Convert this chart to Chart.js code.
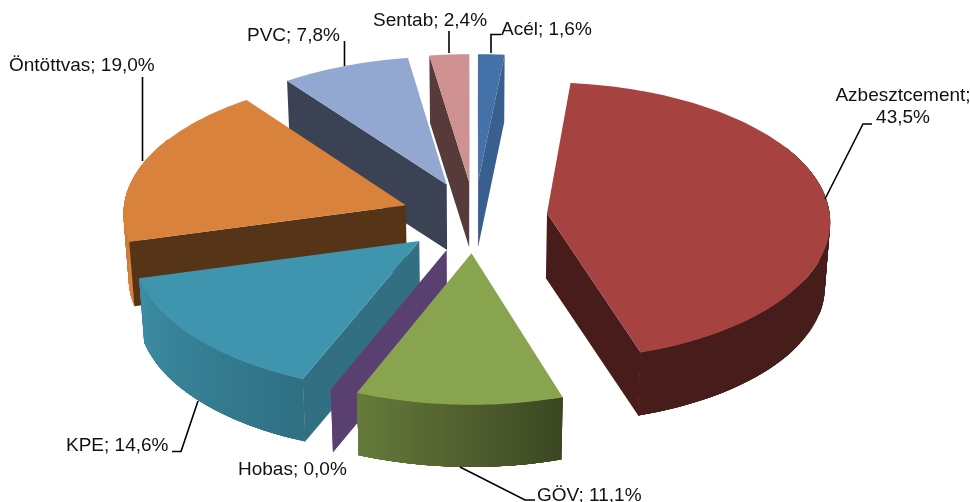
<!DOCTYPE html>
<html>
<head>
<meta charset="utf-8">
<title>Pie 3D</title>
<script src="https://cdn.jsdelivr.net/npm/chart.js@4"></script>
<style>
  html, body { margin: 0; padding: 0; background: #fff; overflow: hidden; }
  canvas { display: block; }
</style>
</head>
<body>
<canvas id="grafico" width="970" height="502"></canvas>
<script>
// data
const categories = ["Acél", "Azbesztcement", "GÖV", "Hobas", "KPE", "Öntöttvas", "PVC", "Sentab"];
const values = [1.6, 43.5, 11.1, 0.0, 14.6, 19.0, 7.8, 2.4];

// colours
const faceColors = ["#4472a8", "#a64341", "#88a44e", "#5a4070", "#3f95ae", "#d8823c", "#92a8d0", "#cf9191"];
const wallColors = ["#395f8e", "#471c1a", "#4f6330", "#5a4070", "#326f82", "#563417", "#3a4254", "#573a3a"];

// label placement
const labelAnchors = [
  { x: 501, y: 30, line: [[491, 53], [491, 34.5], [501, 34.5]] },
  { x: 903, y: 96, center: true, line: [[872, 124], [863, 124], [825, 199]] },
  { x: 537, y: 496, line: [[460, 467], [525, 500], [535, 500]] },
  { x: 238, y: 470, line: null },
  { x: 66, y: 446, line: [[172, 451.5], [181, 451.5], [198, 401]] },
  { x: 9, y: 66, line: [[142.5, 77], [142.5, 161]] },
  { x: 247, y: 36, line: [[344.5, 41], [344.5, 66]] },
  { x: 373, y: 21, line: [[449, 31], [449, 53]] }
];

// perspective of the flattened pie
const VIEW = { tilt: 0.49, perspY: 0.0002, perspX: 0.00018, depth: 65, baseScale: 0.985 };

function projeta(cx, cy, px, pz, base) {
  const sx = 1 / (1 - VIEW.perspX * pz);
  const sy = 1 / (1 - VIEW.perspY * pz);
  const k = base ? VIEW.baseScale : 1;
  return {
    x: cx + px * sx * k,
    y: cy + VIEW.tilt * pz * sy * k + (base ? VIEW.depth : 0)
  };
}

function misturaCor(hex, f) {
  const n = parseInt(hex.slice(1), 16);
  const r = Math.round(((n >> 16) & 255) * f);
  const g = Math.round(((n >> 8) & 255) * f);
  const b = Math.round((n & 255) * f);
  return `rgb(${r},${g},${b})`;
}

// shade of the outer wall, by angle clockwise from the top
function luzParede(graus) {
  if (graus <= 162) return 0.43;
  if (graus <= 202) return 0.43 + (graus - 162) / 40 * 0.32;
  if (graus <= 255) return 0.75 + (graus - 202) / 53 * 0.2;
  return 1;
}

function poligono(ctx, pts, cor) {
  ctx.beginPath();
  pts.forEach((p, i) => i ? ctx.lineTo(p.x, p.y) : ctx.moveTo(p.x, p.y));
  ctx.closePath();
  ctx.fillStyle = cor;
  ctx.fill();
}

function desenhaFatia(ctx, arc, i) {
  const ini = arc.startAngle + Math.PI / 2;
  const fim = arc.endAngle + Math.PI / 2;
  const meio = (ini + fim) / 2;
  const ex = arc.options.offset * Math.sin(meio);
  const ez = -arc.options.offset * Math.cos(meio);
  const R = arc.outerRadius;
  const pt = (ang, r, base) =>
    projeta(arc.x, arc.y, ex + r * Math.sin(ang), ez - r * Math.cos(ang), base);

  const passos = Math.max(1, Math.ceil((fim - ini) / 0.02));
  const angs = [];
  for (let k = 0; k <= passos; k++) angs.push(ini + (fim - ini) * k / passos);

  // outer wall, front part only (the top face hides the overlap at the sides)
  const frente = angs.filter(a => a * 180 / Math.PI >= 60 && a * 180 / Math.PI <= 300);
  if (fim > ini && frente.length > 1) {
    const x0 = pt(frente[0], R).x;
    const x1 = pt(frente[frente.length - 1], R).x;
    const grad = ctx.createLinearGradient(x0, 0, x1, 0);
    frente.forEach(a => {
      const t = Math.min(1, Math.max(0, (pt(a, R).x - x0) / (x1 - x0)));
      grad.addColorStop(t, misturaCor(faceColors[i], luzParede(a * 180 / Math.PI)));
    });
    const contorno = frente.map(a => pt(a, R));
    frente.slice().reverse().forEach(a => contorno.push(pt(a, R, true)));
    poligono(ctx, contorno, grad);
    // top and base rims cross near the sides, so the side edges are filled too,
    // with overlapping strips so that no seam shows
    [frente.slice(0, 40), frente.slice(-40)].forEach(lado => {
      lado.forEach((a, k) => {
        const b = lado[Math.min(k + 4, lado.length - 1)];
        if (b !== a) poligono(ctx, [pt(a, R), pt(b, R), pt(b, R, true), pt(a, R, true)], grad);
      });
    });
  }

  // radial walls, only those facing the viewer
  const A = pt(ini, 0);
  const M = pt(meio, R);
  [ini, fim].forEach(a => {
    const B = pt(a, R);
    const ladoBaixo = (B.x - A.x);
    const ladoDentro = (B.x - A.x) * (M.y - A.y) - (B.y - A.y) * (M.x - A.x);
    if (fim === ini || ladoBaixo * ladoDentro < 0) {
      poligono(ctx, [pt(a, 0), pt(a, R), pt(a, R, true), pt(a, 0, true)], wallColors[i]);
    }
  });

  // top face
  if (fim > ini) {
    const topo = [pt(ini, 0)];
    angs.forEach(a => topo.push(pt(a, R)));
    poligono(ctx, topo, faceColors[i]);
  }
}

const pizza3d = {
  id: "pizza3d",
  beforeDatasetDraw(chart, args) {
    const ctx = chart.ctx;
    const arcs = args.meta.data;
    // back slices first
    const ordem = arcs.map((arc, i) => i).sort((p, q) => {
      const mp = (arcs[p].startAngle + arcs[p].endAngle) / 2 + Math.PI / 2;
      const mq = (arcs[q].startAngle + arcs[q].endAngle) / 2 + Math.PI / 2;
      return Math.cos(mq) - Math.cos(mp);
    });
    ctx.save();
    ordem.forEach(i => desenhaFatia(ctx, arcs[i], i));
    ctx.restore();
    return false;
  },
  afterDatasetsDraw(chart) {
    const ctx = chart.ctx;
    ctx.save();
    ctx.font = "19px 'Liberation Sans', Arial, sans-serif";
    ctx.fillStyle = "#111";
    ctx.textBaseline = "middle";
    categories.forEach((nome, i) => {
      const a = labelAnchors[i];
      const pct = values[i].toFixed(1).replace(".", ",") + "%";
      if (a.center) {
        ctx.textAlign = "center";
        ctx.fillText(nome + ";", a.x, a.y);
        ctx.fillText(pct, a.x, a.y + 22);
      } else {
        ctx.textAlign = "left";
        ctx.fillText(nome + "; " + pct, a.x, a.y);
      }
      if (a.line) {
        ctx.beginPath();
        a.line.forEach((p, k) => k ? ctx.lineTo(p[0], p[1]) : ctx.moveTo(p[0], p[1]));
        ctx.strokeStyle = "#000";
        ctx.lineWidth = 1.6;
        ctx.stroke();
      }
    });
    ctx.restore();
  }
};

new Chart(document.getElementById("grafico"), {
  type: "pie",
  data: {
    labels: categories,
    datasets: [{
      data: values,
      backgroundColor: faceColors,
      borderWidth: 0,
      offset: 73
    }]
  },
  options: {
    responsive: false,
    animation: false,
    radius: 283,
    layout: { padding: { right: 21, bottom: 68 } },
    plugins: {
      legend: { display: false },
      tooltip: { enabled: false }
    }
  },
  plugins: [pizza3d]
});
</script>
</body>
</html>
